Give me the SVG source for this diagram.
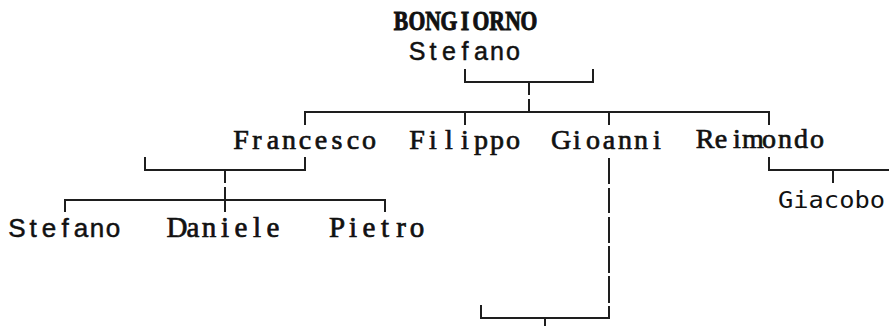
<svg xmlns="http://www.w3.org/2000/svg" width="889" height="326" viewBox="0 0 889 326">
<style>
.ln{fill:none;stroke:#1e1e1e;stroke-width:2;stroke-linecap:butt;stroke-linejoin:miter}
.serif{font-family:"Liberation Serif","Times New Roman",serif;font-size:28px;fill:#111;stroke:#111;stroke-width:0.7;text-anchor:middle}
.serifL{font-family:"Liberation Serif","Times New Roman",serif;font-size:29px;fill:#111;stroke:#111;stroke-width:0.7;text-anchor:middle}
.bold{font-family:"Liberation Serif","Times New Roman",serif;font-size:27px;font-weight:bold;fill:#111;stroke:#111;stroke-width:1;text-anchor:middle}
.sans{font-family:"Liberation Sans",Arial,sans-serif;font-size:25px;fill:#111;stroke:#111;stroke-width:0.5;text-anchor:middle}
.sansL{font-family:"Liberation Sans",Arial,sans-serif;font-size:26px;fill:#111;stroke:#111;stroke-width:0.5;text-anchor:middle}
.mono{font-family:"DejaVu Sans Mono",monospace;font-size:23px;fill:#111}
</style>
<rect width="889" height="326" fill="#ffffff"/>
<g id="connectors">
<path class="ln" d="M465 69V82H593V69"/>
<path class="ln" d="M529 82V95M529 99V112"/>
<path class="ln" d="M305 125V112H769V125"/>
<path class="ln" d="M465 112V125"/>
<path class="ln" d="M609 112V125"/>
<path class="ln" d="M145 157V170H305V157"/>
<path class="ln" d="M225 170V183M225 187V212"/>
<path class="ln" d="M65 212V200H385V212"/>
<path class="ln" d="M769 157V170H889"/>
<path class="ln" d="M833 170V183"/>
<path class="ln" d="M609 158V184M609 188V213M609 217V243M609 246V273M609 276V303M609 306V318H481V305"/>
<path class="ln" d="M545 318V326"/>
</g>
<g id="node-bongiorno">
<g transform="translate(0,30) scale(0.8,1)">
<text class="bold" x="501.25 521.25 541.25 561.25 581.25 601.25 621.25 641.25 661.25" y="0">BONGIORNO</text>
</g>
<text class="sans" x="417 433 449 465 481 497 513" y="60">Stefano</text>
</g>
<g id="node-francesco">
<text class="serif" x="241 257 273 289 305 321 337 353 369" y="148.5">Francesco</text>
</g>
<g id="node-filippo">
<text class="serif" x="417 433 449 465 481 497 513" y="148.5">Filippo</text>
</g>
<g id="node-gioanni">
<text class="serif" x="561 577 593 609 625 641 657" y="148.5">Gioanni</text>
</g>
<g id="node-reimondo">
<text class="serif" x="705 721 737 753 769 785 801 817" y="148">Reimondo</text>
</g>
<g id="node-giacobo">
<text class="mono" x="778" y="207.5" textLength="107" lengthAdjust="spacingAndGlyphs">Giacobo</text>
</g>
<g id="node-stefano">
<text class="sansL" x="17 33 49 65 81 97 113" y="237">Stefano</text>
</g>
<g id="node-daniele">
<text class="serifL" x="177 193 209 225 241 257 273" y="237">Daniele</text>
</g>
<g id="node-pietro">
<text class="serifL" x="337 353 369 385 401 417" y="237">Pietro</text>
</g>
</svg>
